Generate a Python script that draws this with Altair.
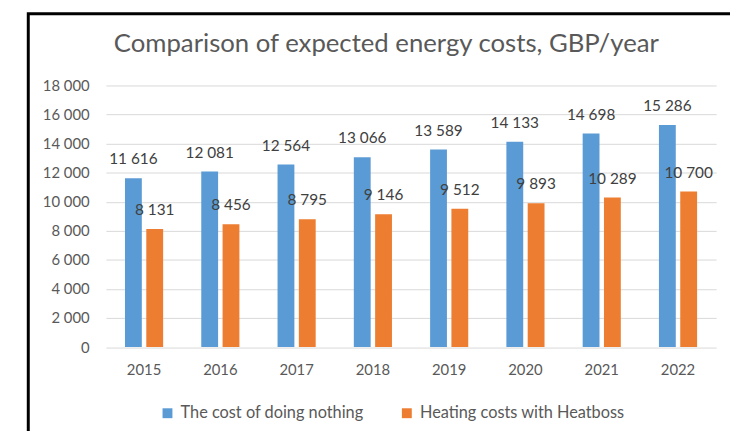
import altair as alt
import pandas as pd

years = ["2015", "2016", "2017", "2018", "2019", "2020", "2021", "2022"]
do_nothing = [11616, 12081, 12564, 13066, 13589, 14133, 14698, 15286]
heatboss = [8131, 8456, 8795, 9146, 9512, 9893, 10289, 10700]
series_names = ["The cost of doing nothing", "Heating costs with Heatboss"]
series_colors = ["#5B9BD5", "#ED7D31"]
y_ticks = [0, 2000, 4000, 6000, 8000, 10000, 12000, 14000, 16000, 18000]
title_text = "Comparison of expected energy costs, GBP/year"

rows = []
for name, vals in zip(series_names, [do_nothing, heatboss]):
    for yr, v in zip(years, vals):
        rows.append({"year": yr, "series": name, "value": v,
                     "label": f"{v:,}".replace(",", " ")})
df = pd.DataFrame(rows)

FONT = "Lato"
AX_COLOR = "#595959"

x_enc = alt.X("year:N", sort=years,
              scale=alt.Scale(paddingInner=0.5, paddingOuter=0.25),
              axis=alt.Axis(title=None, labelAngle=0, ticks=False, domain=False,
                            labelPadding=16, labelFontSize=15, labelColor=AX_COLOR,
                            labelFont=FONT, grid=False))
xoff_enc = alt.XOffset("series:N", scale=alt.Scale(domain=series_names, paddingInner=0.21))
y_enc = alt.Y("value:Q", scale=alt.Scale(domain=[0, 18000], nice=False),
              axis=alt.Axis(title=None, values=y_ticks, ticks=False, domain=False,
                            labelPadding=17, labelFontSize=15, labelColor=AX_COLOR,
                            labelFont=FONT, gridColor="#D9D9D9", gridWidth=1,
                            labelExpr="replace(format(datum.value, ','), ',', ' ')"))
color_enc = alt.Color("series:N",
                      scale=alt.Scale(domain=series_names, range=series_colors),
                      legend=alt.Legend(title=None, orient="none", direction="horizontal",
                                        legendX=54, legendY=323, symbolType="square",
                                        symbolSize=100, symbolStrokeWidth=0,
                                        labelFontSize=16.5, labelColor=AX_COLOR,
                                        labelFont=FONT, labelOffset=5, labelLimit=400,
                                        columnPadding=35, padding=0))

border = alt.Chart(pd.DataFrame({"k": [0]})).mark_rect(
    fillOpacity=0, stroke="black", strokeWidth=3
).encode(x=alt.value(-78.5), x2=alt.value(700), y=alt.value(-72.5), y2=alt.value(400))

bars = alt.Chart(df).mark_bar().encode(x=x_enc, xOffset=xoff_enc, y=y_enc, color=color_enc)

labels = alt.Chart(df).mark_text(
    dy=-19, baseline="middle", fontSize=15.5, font=FONT, color="#404040"
).encode(x=x_enc, xOffset=xoff_enc, y=y_enc, text="label:N")

chart = alt.layer(border, bars, labels).properties(
    width=617, height=264.5,
    title=alt.TitleParams(text=title_text, anchor="start", frame="group", dx=8,
                          fontSize=26, font=FONT, color=AX_COLOR, fontWeight="normal",
                          baseline="alphabetic", offset=-66),
    autosize=alt.AutoSizeParams(type="none"),
    padding={"left": 99, "top": 76, "right": 14, "bottom": 82},
).configure_view(stroke="transparent")

chart.save("out.html", embed_options={"renderer": "svg", "actions": False})
